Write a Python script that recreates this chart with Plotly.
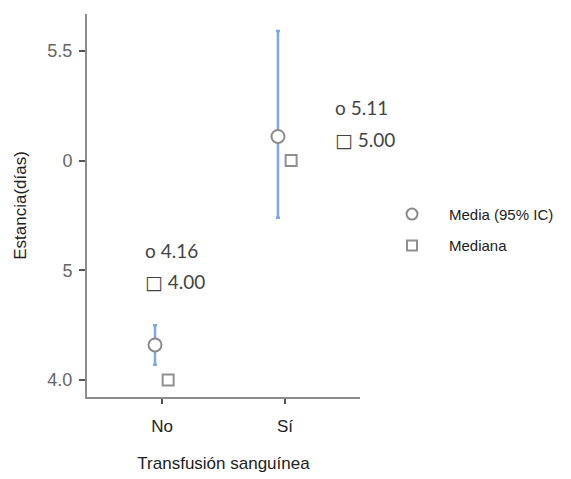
import plotly.graph_objects as go

categories = ["No", "Sí"]
mean_vals = [4.16, 5.11]
ci_low = [4.07, 4.74]
ci_high = [4.25, 5.59]
median_vals = [4.00, 5.00]
y_tickvals = [4.0, 4.5, 5.0, 5.5]
y_ticktext = ["4.0", "5", "0", "5.5"]

xpos = list(range(len(categories)))
mean_off = -0.057
med_off = 0.05

fig = go.Figure()
fig.add_trace(go.Scatter(
    x=[p + mean_off for p in xpos], y=mean_vals, mode="markers", showlegend=False,
    marker=dict(symbol="circle", size=13, color="white", line=dict(color="#8a8a8a", width=2)),
    error_y=dict(type="data", symmetric=False,
                 array=[h - m for h, m in zip(ci_high, mean_vals)],
                 arrayminus=[m - l for l, m in zip(ci_low, mean_vals)],
                 color="#7ea6e8", thickness=2.5, width=2),
))
fig.add_trace(go.Scatter(
    x=[p + med_off for p in xpos], y=median_vals, mode="markers", showlegend=False,
    marker=dict(symbol="square", size=11, color="white", line=dict(color="#8f8f8f", width=2)),
))
fig.add_trace(go.Scatter(
    x=[None], y=[None], mode="markers", name="Media (95% IC)", legendgroup="a",
    marker=dict(symbol="circle", size=11, color="white", line=dict(color="#8a8a8a", width=2)),
))
fig.add_trace(go.Scatter(
    x=[None], y=[None], mode="markers", name="Mediana", legendgroup="b",
    marker=dict(symbol="square", size=10, color="white", line=dict(color="#8f8f8f", width=2)),
))

# value labels
lab_pos = [(-0.154, 4.591, 4.45), (1.39, 5.241, 5.095)]
for i, (lx, y1, y2) in enumerate(lab_pos):
    fig.add_annotation(x=lx, y=y1, xref="x", yref="y", xanchor="left", yanchor="middle",
                       text=f"o {mean_vals[i]:.2f}", showarrow=False,
                       font=dict(family="Lato", size=19, color="#444"))
    fig.add_annotation(x=lx, y=y2, xref="x", yref="y", xanchor="left", yanchor="middle",
                       text=f"<span style='font-family:DejaVu Sans'>□</span> {median_vals[i]:.2f}",
                       showarrow=False,
                       font=dict(family="Lato", size=19, color="#444"))

fig.update_layout(
    width=571, height=479,
    margin=dict(l=87, r=211, t=14, b=82, autoexpand=False),
    plot_bgcolor="white", paper_bgcolor="white",
    font=dict(family="Liberation Sans", size=13, color="#222"),
    showlegend=True,
    legend=dict(x=1.055, xanchor="left", y=0.52, yanchor="top",
                traceorder="grouped", tracegroupgap=9, itemwidth=64,
                font=dict(size=15, color="#222")),
    xaxis=dict(range=[-0.61, 1.61], tickvals=xpos, ticktext=categories, automargin=False,
               showgrid=False, zeroline=False, showline=True, linecolor="#8c8c8c", linewidth=2,
               ticks="outside", ticklen=5, tickwidth=2, tickcolor="#555",
               ticklabelstandoff=8,
               tickfont=dict(size=17, color="#222"),
               title=dict(text="Transfusión sanguínea", font=dict(size=17, color="#222"), standoff=22)),
    yaxis=dict(range=[3.923, 5.668], tickvals=y_tickvals, ticktext=y_ticktext, automargin=False,
               showgrid=False, zeroline=False, showline=True, linecolor="#8c8c8c", linewidth=2,
               ticks="outside", ticklen=6, tickwidth=2, tickcolor="#555",
               ticklabelstandoff=3,
               tickfont=dict(size=18, color="#666"),
               title=dict(text="Estancia(días)", font=dict(size=17, color="#222"), standoff=16)),
)

fig.write_html("out.html")
